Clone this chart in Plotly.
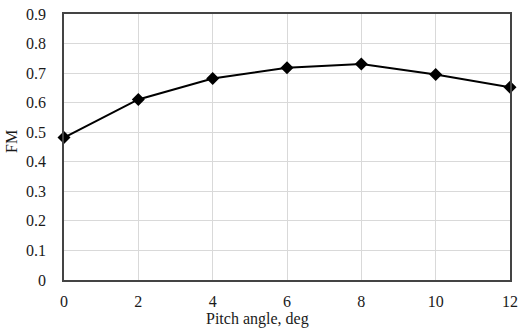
import plotly.graph_objects as go

pitch_angle = [0, 2, 4, 6, 8, 10, 12]
fm = [0.482, 0.611, 0.682, 0.718, 0.731, 0.695, 0.652]
x_ticks = [0, 2, 4, 6, 8, 10, 12]
y_ticks = [0, 0.1, 0.2, 0.3, 0.4, 0.5, 0.6, 0.7, 0.8, 0.9]
y_labels = ["0", "0.1", "0.2", "0.3", "0.4", "0.5", "0.6", "0.7", "0.8", "0.9"]
x_title = "Pitch angle, deg"
y_title = "FM"

fig = go.Figure()
fig.add_trace(go.Scatter(
    x=pitch_angle, y=fm, mode="lines+markers",
    line=dict(color="black", width=2),
    marker=dict(symbol="diamond", size=10, color="black"),
    cliponaxis=False,
))

font = dict(family="Liberation Serif, Times New Roman, serif", size=16, color="#1a1a1a")

fig.update_layout(
    width=519, height=334,
    margin=dict(l=64, r=9, t=14, b=54),
    paper_bgcolor="white", plot_bgcolor="white",
    showlegend=False,
    font=font,
    xaxis=dict(
        range=[0, 12], tickvals=x_ticks, ticks="outside", ticklen=6, tickcolor="rgba(0,0,0,0)",
        showgrid=True, gridcolor="#d9d9d9", gridwidth=1,
        showline=True, linecolor="#444", linewidth=1.5, mirror=True,
        zeroline=False, automargin=False,
        tickfont=font,
    ),
    yaxis=dict(
        range=[0, 0.9], tickvals=y_ticks, ticktext=y_labels, ticks="outside", ticklen=13, tickcolor="rgba(0,0,0,0)",
        showgrid=True, gridcolor="#d9d9d9", gridwidth=1,
        showline=True, linecolor="#444", linewidth=1.5, mirror=True,
        zeroline=False, automargin=False,
        tickfont=font,
    ),
    annotations=[
        dict(text=x_title, xref="paper", yref="paper", x=0.433, y=-0.147,
             xanchor="center", yanchor="middle", showarrow=False, font=font),
        dict(text=y_title, xref="paper", yref="paper", x=-0.1166, y=0.523,
             xanchor="center", yanchor="middle", showarrow=False, font=font, textangle=-90),
    ],
)

fig.write_html("out.html", config={"displayModeBar": False},
               post_script="document.body.style.margin='0px';document.body.style.overflow='hidden';")
